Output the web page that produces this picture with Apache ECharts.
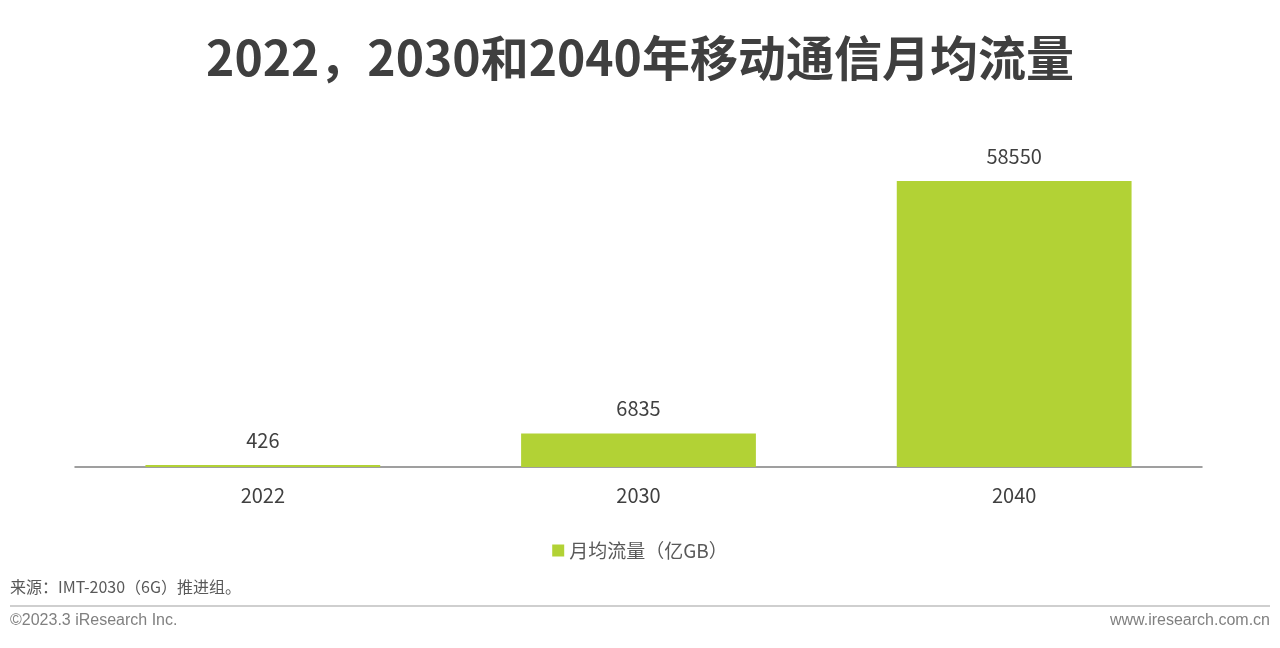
<!DOCTYPE html>
<html><head><meta charset="utf-8">
<script src="https://cdn.jsdelivr.net/npm/echarts@6/dist/echarts.min.js"></script>
<style>html,body{margin:0;padding:0;background:#fff;}#c{width:1280px;height:648px;}</style>
</head><body><div id="c"></div>
<script>
const categories = ['2022', '2030', '2040'];
const seriesName = '月均流量（亿GB）';
const values = [426, 6835, 58550];
const titleText = '2022，2030和2040年移动通信月均流量';
const sourceText = '来源：IMT-2030（6G）推进组。';
const copyrightText = '©2023.3 iResearch Inc.';
const siteText = 'www.iresearch.com.cn';

const cjk = '"Microsoft YaHei","Noto Sans CJK SC","Open Sans",sans-serif';
const chart = echarts.init(document.getElementById('c'));
chart.setOption({
  animation: false,
  title: {
    text: titleText, left: 'center', top: 29,
    textStyle: { fontFamily: cjk, fontSize: 48, fontWeight: 'bold', color: '#3f3f3f' }
  },
  grid: { left: 75, right: 78, top: 174, bottom: 181 },
  legend: {
    data: [seriesName], bottom: 83, left: 'center',
    itemWidth: 12, itemHeight: 12, icon: 'rect', itemGap: 6,
    textStyle: { fontFamily: cjk, fontSize: 19, color: '#595959' }
  },
  xAxis: {
    type: 'category', data: categories,
    axisLine: { lineStyle: { color: '#808080', width: 1.5 } },
    axisTick: { show: false },
    axisLabel: { fontFamily: cjk, fontSize: 20, color: '#404040', margin: 18 }
  },
  yAxis: { type: 'value', min: 0, max: 60000, show: false, splitLine: { show: false } },
  series: [{
    name: seriesName, type: 'bar', data: values, barWidth: '62.5%',
    itemStyle: { color: '#b2d235' },
    label: { show: true, position: 'top', distance: 15, fontFamily: cjk, fontSize: 20, color: '#404040' }
  }],
  graphic: [
    { type: 'text', left: 10, top: 579, style: { text: sourceText, font: '16px ' + cjk, fill: '#595959' } },
    { type: 'line', shape: { x1: 10, y1: 606, x2: 1270, y2: 606 }, style: { stroke: '#bfbfbf', lineWidth: 1.5 } },
    { type: 'text', left: 10, top: 613, style: { text: copyrightText, font: '16px "Liberation Sans",Arial,sans-serif', fill: '#808080' } },
    { type: 'text', right: 10, top: 613, style: { text: siteText, font: '16px "Liberation Sans",Arial,sans-serif', fill: '#808080' } }
  ]
});
</script></body></html>
